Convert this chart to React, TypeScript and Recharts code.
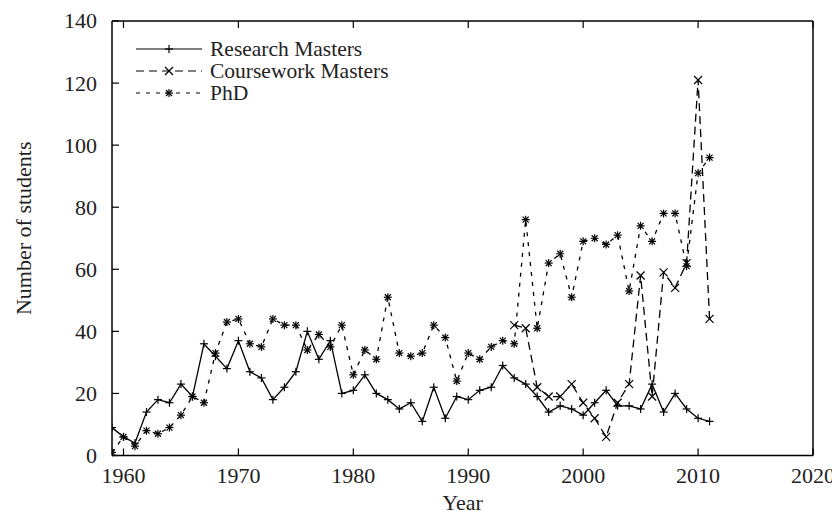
import { LineChart, Line, XAxis, YAxis, Legend, Label } from 'recharts';

const FONT = '"Liberation Serif", "Times New Roman", serif';
const INK = '#000';

const years = [
  1959, 1960, 1961, 1962, 1963, 1964, 1965, 1966, 1967, 1968,
  1969, 1970, 1971, 1972, 1973, 1974, 1975, 1976, 1977, 1978,
  1979, 1980, 1981, 1982, 1983, 1984, 1985, 1986, 1987, 1988,
  1989, 1990, 1991, 1992, 1993, 1994, 1995, 1996, 1997, 1998,
  1999, 2000, 2001, 2002, 2003, 2004, 2005, 2006, 2007, 2008,
  2009, 2010, 2011,
];

const researchMasters = [
  9, 6, 4, 14, 18, 17, 23, 19, 36, 32,
  28, 37, 27, 25, 18, 22, 27, 40, 31, 37,
  20, 21, 26, 20, 18, 15, 17, 11, 22, 12,
  19, 18, 21, 22, 29, 25, 23, 19, 14, 16,
  15, 13, 17, 21, 16, 16, 15, 23, 14, 20,
  15, 12, 11,
];

// coursework masters only recorded from 1994
const courseworkMasters = [
  null, null, null, null, null, null, null, null, null, null,
  null, null, null, null, null, null, null, null, null, null,
  null, null, null, null, null, null, null, null, null, null,
  null, null, null, null, null, 42, 41, 22, 19, 19,
  23, 17, 12, 6, 17, 23, 58, 19, 59, 54,
  62, 121, 44,
];

const phd = [
  1, 6, 3, 8, 7, 9, 13, 19, 17, 33,
  43, 44, 36, 35, 44, 42, 42, 34, 39, 35,
  42, 26, 34, 31, 51, 33, 32, 33, 42, 38,
  24, 33, 31, 35, 37, 36, 76, 41, 62, 65,
  51, 69, 70, 68, 71, 53, 74, 69, 78, 78,
  61, 91, 96,
];

const yearTicks = [1960, 1970, 1980, 1990, 2000, 2010, 2020];
const studentTicks = [0, 20, 40, 60, 80, 100, 120, 140];

const data = years.map((year, i) => ({
  year,
  rm: researchMasters[i],
  cm: courseworkMasters[i],
  phd: phd[i],
}));

const S = 4;

const PlusMark = (p: any) => {
  const { cx, cy } = p;
  if (cx == null || cy == null) return <g />;
  return (
    <g stroke={INK} strokeWidth={1.2}>
      <line x1={cx - S} y1={cy} x2={cx + S} y2={cy} />
      <line x1={cx} y1={cy - S} x2={cx} y2={cy + S} />
    </g>
  );
};

const CrossMark = (p: any) => {
  const { cx, cy } = p;
  if (cx == null || cy == null) return <g />;
  return (
    <g stroke={INK} strokeWidth={1.2}>
      <line x1={cx - S} y1={cy - S} x2={cx + S} y2={cy + S} />
      <line x1={cx - S} y1={cy + S} x2={cx + S} y2={cy - S} />
    </g>
  );
};

const StarMark = (p: any) => {
  const { cx, cy } = p;
  if (cx == null || cy == null) return <g />;
  return (
    <g stroke={INK} strokeWidth={1.2}>
      <line x1={cx - S} y1={cy} x2={cx + S} y2={cy} />
      <line x1={cx} y1={cy - S} x2={cx} y2={cy + S} />
      <line x1={cx - 3} y1={cy - 3} x2={cx + 3} y2={cy + 3} />
      <line x1={cx - 3} y1={cy + 3} x2={cx + 3} y2={cy - 3} />
    </g>
  );
};

const legendItems = [
  { name: 'Research Masters', dash: undefined, Mark: PlusMark },
  { name: 'Coursework Masters', dash: '8 5', Mark: CrossMark },
  { name: 'PhD', dash: '4 6', Mark: StarMark },
];

const LegendBox = () => (
  <svg width={320} height={90} style={{ overflow: 'visible' }}>
    {legendItems.map((it, i) => {
      const y = 21 + i * 22;
      return (
        <g key={it.name}>
          <line x1={0} y1={y} x2={66} y2={y} stroke={INK} strokeWidth={1.2} strokeDasharray={it.dash} />
          <it.Mark cx={33} cy={y} />
          <text x={74} y={y + 7} fontFamily={FONT} fontSize={21.5} fill="#222">{it.name}</text>
        </g>
      );
    })}
  </svg>
);

const BottomTick = (p: any) => (
  <g>
    <line x1={p.x} y1={p.y} x2={p.x} y2={p.y - 7} stroke={INK} strokeWidth={1.2} />
    <text x={p.x} y={p.y + 27} textAnchor="middle" fontFamily={FONT} fontSize={22} fill="#222">
      {p.payload.value}
    </text>
  </g>
);

const TopTick = (p: any) => (
  <line x1={p.x} y1={p.y} x2={p.x} y2={p.y + 7} stroke={INK} strokeWidth={1.2} />
);

const LeftTick = (p: any) => (
  <g>
    <line x1={p.x} y1={p.y} x2={p.x + 7} y2={p.y} stroke={INK} strokeWidth={1.2} />
    <text x={p.x - 15} y={p.y} dy="0.34em" textAnchor="end" fontFamily={FONT} fontSize={22} fill="#222">
      {p.payload.value}
    </text>
  </g>
);

const RightTick = (p: any) => (
  <line x1={p.x} y1={p.y} x2={p.x - 7} y2={p.y} stroke={INK} strokeWidth={1.2} />
);

const axisLine = { stroke: INK, strokeWidth: 1.5 };

export default function App() {
  return (
    <div style={{ width: 832, height: 507, fontFamily: FONT }}>
      <LineChart
        width={832}
        height={507}
        data={data}
        margin={{ top: 12, right: 26, bottom: 0, left: 0 }}
      >
        <XAxis
          dataKey="year"
          type="number"
          domain={[1959, 2020]}
          ticks={yearTicks}
          allowDataOverflow
          height={59.5}
          tickSize={0}
          tickMargin={0}
          tickLine={false}
          axisLine={axisLine}
          tick={BottomTick}
          interval={0}
        >
          <Label
            content={(p: any) => (
              <text
                x={p.viewBox.x + p.viewBox.width / 2}
                y={p.viewBox.y + 54}
                textAnchor="middle"
                fontFamily={FONT}
                fontSize={22}
                fill="#222"
              >
                Year
              </text>
            )}
          />
        </XAxis>
        <XAxis
          xAxisId="top"
          orientation="top"
          dataKey="year"
          type="number"
          domain={[1959, 2020]}
          ticks={yearTicks}
          allowDataOverflow
          height={1}
          tickSize={0}
          tickMargin={0}
          tickLine={false}
          axisLine={axisLine}
          tick={TopTick}
          interval={0}
        />
        <YAxis
          type="number"
          domain={[0, 140]}
          ticks={studentTicks}
          width={104}
          tickSize={0}
          tickMargin={0}
          tickLine={false}
          axisLine={axisLine}
          tick={LeftTick}
          interval={0}
        >
          <Label
            content={(p: any) => {
              const cx = 15;
              const cy = p.viewBox.y + p.viewBox.height / 2 - 10;
              return (
                <text
                  x={cx}
                  y={cy}
                  transform={`rotate(-90 ${cx} ${cy})`}
                  textAnchor="middle"
                  dominantBaseline="central"
                  fontFamily={FONT}
                  fontSize={22}
                  fill="#222"
                >
                  Number of students
                </text>
              );
            }}
          />
        </YAxis>
        <YAxis
          yAxisId="right"
          orientation="right"
          type="number"
          domain={[0, 140]}
          ticks={studentTicks}
          width={1}
          tickSize={0}
          tickMargin={0}
          tickLine={false}
          axisLine={axisLine}
          tick={RightTick}
          interval={0}
        />
        <Legend
          layout="horizontal"
          verticalAlign="middle"
          align="center"
          wrapperStyle={{ top: 20, left: 128, width: 320, height: 90 }}
          content={LegendBox}
        />
        <Line
          dataKey="rm"
          name="Research Masters"
          type="linear"
          stroke={INK}
          strokeWidth={1.3}
          dot={PlusMark}
          activeDot={false}
          isAnimationActive={false}
        />
        <Line
          dataKey="cm"
          name="Coursework Masters"
          type="linear"
          stroke={INK}
          strokeWidth={1.3}
          strokeDasharray="8 5"
          dot={CrossMark}
          activeDot={false}
          isAnimationActive={false}
        />
        <Line
          dataKey="phd"
          name="PhD"
          type="linear"
          stroke={INK}
          strokeWidth={1.3}
          strokeDasharray="4 6"
          dot={StarMark}
          activeDot={false}
          isAnimationActive={false}
        />
      </LineChart>
    </div>
  );
}
